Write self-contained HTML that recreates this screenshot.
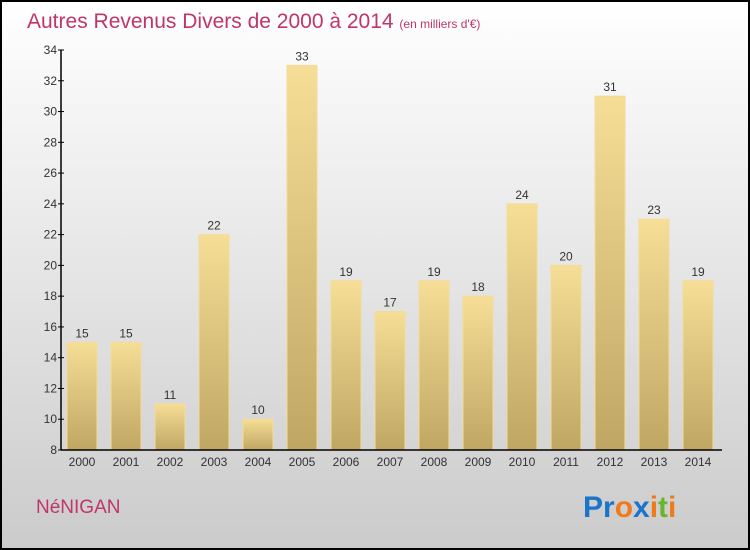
<!DOCTYPE html>
<html><head><meta charset="utf-8"><style>
body{margin:0;}
#c{width:750px;height:550px;position:relative;overflow:hidden;font-family:"Liberation Sans",sans-serif;}
</style></head><body>
<div id="c">
<svg id="s" width="750" height="550" xmlns="http://www.w3.org/2000/svg">
<defs>
<linearGradient id="bg" x1="0" y1="0" x2="0" y2="1"><stop offset="0" stop-color="#ffffff"/><stop offset="1" stop-color="#cbcbcb"/></linearGradient>
<linearGradient id="bar" x1="0" y1="0" x2="0" y2="1"><stop offset="0" stop-color="#f6de96"/><stop offset="1" stop-color="#c0a663"/></linearGradient>
</defs>
<rect x="1" y="1" width="748" height="548" fill="url(#bg)" stroke="#000" stroke-width="2"/>
<text x="27" y="28" font-size="21" fill="#c0356a">Autres Revenus Divers de 2000 à 2014 <tspan font-size="12">(en milliers d'€)</tspan></text>
<g id="bars"></g>
<g id="axes"></g>
<text x="36" y="513" font-size="19" fill="#c0356a">NéNIGAN</text>
<text x="583" y="517" font-size="30" font-weight="bold" letter-spacing="0"><tspan fill="#1a74c9">Pr</tspan><tspan fill="#f07a1b">o</tspan><tspan fill="#1a74c9">x</tspan><tspan fill="#f07a1b">i</tspan><tspan fill="#6bb52c">t</tspan><tspan fill="#f07a1b">i</tspan></text>
</svg>
</div>
<script>
const years=["2000","2001","2002","2003","2004","2005","2006","2007","2008","2009","2010","2011","2012","2013","2014"];
const values=[15,15,11,22,10,33,19,17,19,18,24,20,31,23,19];
const yTicks=[8,10,12,14,16,18,20,22,24,26,28,30,32,34];
const NS="http://www.w3.org/2000/svg";
const x0=61,x1=722,yb=450,yt=50,ymin=8,ymax=34;
const Y=v=>yb-(v-ymin)/(ymax-ymin)*(yb-yt);
const step=44,bw=30;
const X=i=>82+i*step;
function mk(t,a,p){const e=document.createElementNS(NS,t);for(const k in a)e.setAttribute(k,a[k]);p.appendChild(e);return e;}
const bars=document.getElementById('bars'),axes=document.getElementById('axes');
values.forEach((v,i)=>{
 const r=mk('rect',{x:X(i)-bw/2,y:Y(v),width:bw,height:yb-Y(v),fill:'url(#bar)',stroke:'#f3dc98','stroke-width':1},bars);
 
 
 const t=mk('text',{x:X(i),y:Y(v)-5,'text-anchor':'middle','font-size':12,fill:'#333'},bars);
 t.textContent=v;
 
 
 const xl=mk('text',{x:X(i),y:466,'text-anchor':'middle','font-size':12,fill:'#333'},axes);
 xl.textContent=years[i];
 
 
});
const ya=mk('line',{x1:x0,y1:yt,x2:x0,y2:yb,stroke:'#000','stroke-width':1.5},axes);


const xa=mk('line',{x1:x0,y1:yb,x2:x1,y2:yb,stroke:'#000','stroke-width':1.5},axes);


yTicks.forEach(v=>{
 mk('line',{x1:x0-3,y1:Y(v),x2:x0+3,y2:Y(v),stroke:'#000'},axes);
 const t=mk('text',{x:x0-4,y:Y(v)+4,'text-anchor':'end','font-size':12,fill:'#333'},axes);
 t.textContent=v;
 
 
});
</script>
</body></html>
